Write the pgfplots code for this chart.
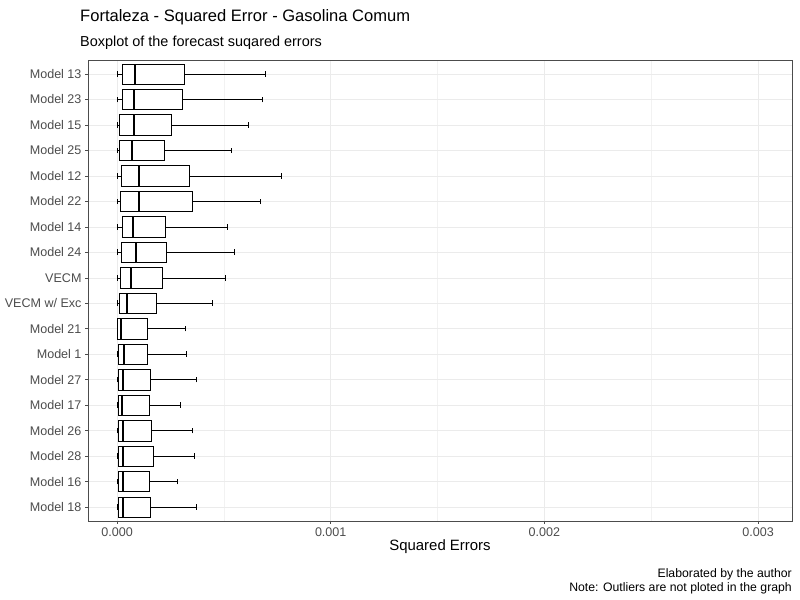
\documentclass[border=0pt]{standalone}
\usepackage{pgfplots}
\pgfplotsset{compat=1.18}
\usepgfplotslibrary{statistics}
\usepackage{fontspec}
\setmainfont{Liberation Sans}
\newcommand{\bx}[6]{\addplot[black, fill=white, line width=0.5bp, boxplot prepared={draw position=#1, lower whisker=#2, lower quartile=#3, median=#4, upper quartile=#5, upper whisker=#6}] coordinates {};}
\begin{document}
\begin{tikzpicture}[x=1bp,y=1bp]
\useasboundingbox (0,0) rectangle (800,600);
\begin{axis}[at={(88bp,79bp)}, anchor=south west, scale only axis, width=704bp, height=461bp,
  xmin=-0.000136, xmax=0.003159, ymin=0.45, ymax=18.55,
  boxplot/draw direction=x, boxplot/box extend=0.8, boxplot/whisker extend=0.22,
  boxplot/every median/.style={line width=1.3bp},
  xtick={0,0.001,0.002,0.003}, xticklabels={0.000,0.001,0.002,0.003},
  minor xtick={0.0005,0.0015,0.0025},
  scaled x ticks=false,
  ytick={1,...,18},
  yticklabels={Model 18,Model 16,Model 28,Model 26,Model 17,Model 27,Model 1,Model 21,VECM w/ Exc,VECM,Model 24,Model 14,Model 22,Model 12,Model 25,Model 15,Model 23,Model 13},
  tick label style={font=\fontsize{12.6}{14}\selectfont, text=black!70},
  xmajorgrids, ymajorgrids, xminorgrids,
  major grid style={color=black!8, line width=0.5bp},
  minor grid style={color=black!5, line width=0.4bp},
  axis line style={black!70, line width=0.5bp},
  tick style={black!70, line width=0.5bp},
  major tick length=3bp, minor tick length=0pt,
  tick align=outside, xtick pos=bottom, ytick pos=left,
  xlabel={Squared Errors}, xlabel style={font=\fontsize{15}{17}\selectfont, yshift=4bp},
]
\bx{18}{0}{0.0000234}{0.0000842}{0.000314}{0.000693}
\bx{17}{0}{0.0000234}{0.0000796}{0.000304}{0.000679}
\bx{16}{0}{0.0000094}{0.0000796}{0.000253}{0.000613}
\bx{15}{0}{0.0000094}{0.0000702}{0.000220}{0.000533}
\bx{14}{0}{0.0000187}{0.000103}{0.000337}{0.000767}
\bx{13}{0}{0.000014}{0.000103}{0.000351}{0.000669}
\bx{12}{0}{0.0000234}{0.0000749}{0.000225}{0.000515}
\bx{11}{0}{0.0000187}{0.0000889}{0.000229}{0.000547}
\bx{10}{0}{0.000014}{0.0000655}{0.000211}{0.000505}
\bx{9}{0}{0.0000094}{0.0000468}{0.000183}{0.000445}
\bx{8}{0}{0.000002}{0.0000187}{0.000140}{0.000318}
\bx{7}{0}{0.0000047}{0.0000328}{0.000140}{0.000323}
\bx{6}{0}{0.0000047}{0.000028}{0.000154}{0.000370}
\bx{5}{0}{0.0000047}{0.0000234}{0.000150}{0.000295}
\bx{4}{0}{0.0000047}{0.000028}{0.000159}{0.000351}
\bx{3}{0}{0.0000047}{0.000028}{0.000168}{0.000360}
\bx{2}{0}{0.0000047}{0.000028}{0.000150}{0.000281}
\bx{1}{0}{0.0000047}{0.000028}{0.000154}{0.000370}
\end{axis}
\node[anchor=base west, inner sep=0pt, font=\fontsize{16.6}{19}\selectfont] at (80,578) {Fortaleza - Squared Error - Gasolina Comum};
\node[anchor=base west, inner sep=0pt, font=\fontsize{14.5}{17}\selectfont] at (80,553) {Boxplot of the forecast suqared errors};
\node[anchor=base east, inner sep=0pt, font=\fontsize{12.3}{14}\selectfont] at (792,22) {Elaborated by the author};
\node[anchor=base east, inner sep=0pt, font=\fontsize{12.3}{14}\selectfont] at (792,8) {Note: Outliers are not ploted in the graph};
\end{tikzpicture}
\end{document}
